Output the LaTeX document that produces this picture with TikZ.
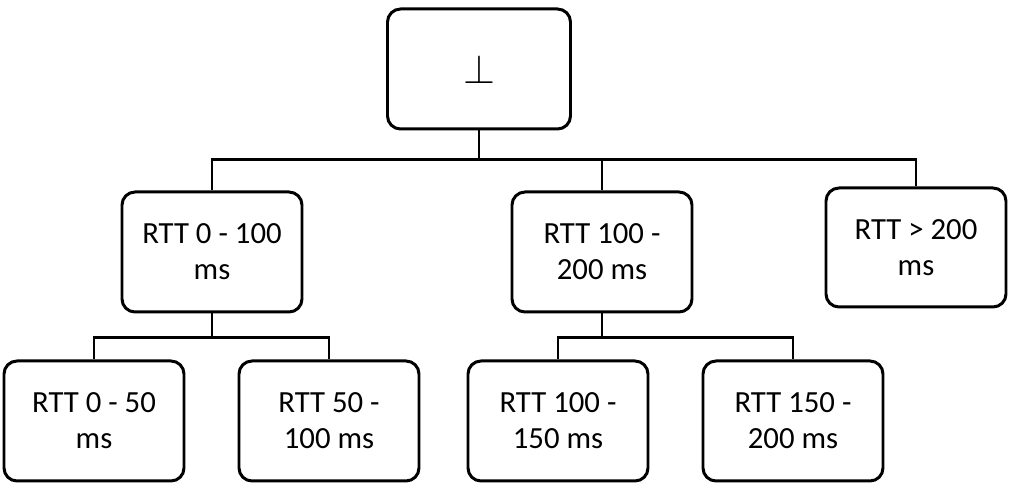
\documentclass[tikz,border=0pt]{standalone}
\usepackage{fontspec}
\setmainfont{Carlito}
\usetikzlibrary{positioning}

\begin{document}
\begin{tikzpicture} [
          box/.style = {draw, line width=1.7pt, rounded corners=0.26cm, align=center,
                        minimum width=3.6cm, minimum height=2.4cm, inner sep=0pt,
                        font=\fontsize{17.5}{20.5}\selectfont},
          link/.style = {line width=1.7pt}
          ]
          \useasboundingbox (0,0) rectangle (20.22,10.08);
          \node[box, minimum width=3.66cm] (root) at (9.58,8.70) {\scalebox{1.35}{$\bot$}};
          \node[box] (mid1) at (4.24,5.04) {RTT 0 - 100\\ms};
          \node[box] (mid2) at (12.04,5.04) {RTT 100 -\\200 ms};
          \node[box, minimum height=2.38cm] (mid3) at (18.32,5.13) {RTT > 200\\ms};
          \node[box] (leaf1) at (1.88,1.66) {RTT 0 - 50\\ms};
          \node[box] (leaf2) at (6.58,1.66) {RTT 50 -\\100 ms};
          \node[box] (leaf3) at (11.16,1.66) {RTT 100 -\\150 ms};
          \node[box] (leaf4) at (15.86,1.66) {RTT 150 -\\200 ms};
          % connectors
          \draw[link] (root.south) -- ++(0,-0.58) coordinate (bus0);
          \draw[link] (bus0) -| (mid1.north);
          \draw[link] (bus0) -| (mid2.north);
          \draw[link] (bus0) -| (mid3.north);
          \draw[link] (mid1.south) -- ++(0,-0.48) coordinate (bus1);
          \draw[link] (bus1) -| (leaf1.north);
          \draw[link] (bus1) -| (leaf2.north);
          \draw[link] (mid2.south) -- ++(0,-0.48) coordinate (bus2);
          \draw[link] (bus2) -| (leaf3.north);
          \draw[link] (bus2) -| (leaf4.north);
        \end{tikzpicture}
\end{document}
